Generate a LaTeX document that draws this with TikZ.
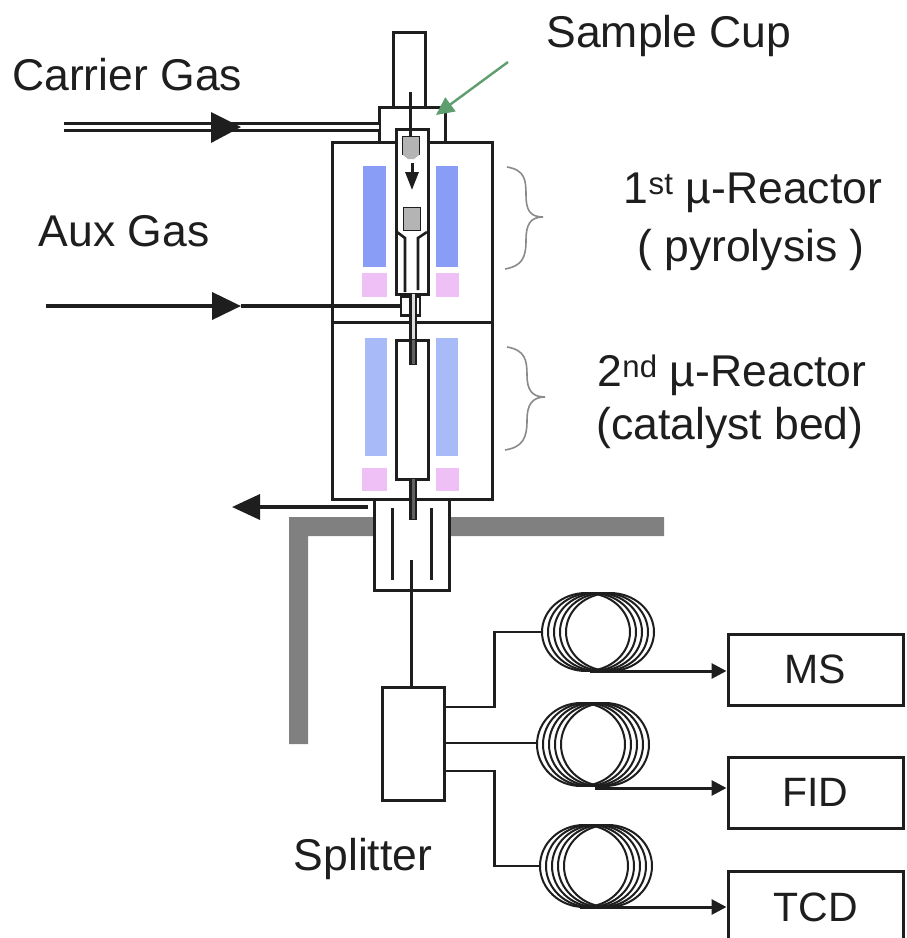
\documentclass[tikz,border=0pt]{standalone}
\usepackage{fontspec}
\setmainfont{Liberation Sans}
\usetikzlibrary{arrows.meta,shapes.geometric}
\definecolor{ink}{HTML}{1E1E1E}
\definecolor{bluea}{HTML}{8A9DF6}
\definecolor{blueb}{HTML}{A8BAF8}
\definecolor{pinkb}{HTML}{EFC0F5}
\definecolor{band}{HTML}{808080}
\definecolor{cupg}{HTML}{B4B4B4}
\definecolor{leaf}{HTML}{5E9E6E}
\definecolor{brc}{HTML}{8A8A8A}
\tikzset{
 box/.style={draw=ink,line width=3pt,fill=white,rectangle,inner sep=0pt},
 plain/.style={rectangle,inner sep=0pt,draw=none},
 wire/.style={draw=ink,line width=3pt},
 thin wire/.style={draw=ink,line width=2.6pt},
 arr/.style={wire,-{Triangle[length=15pt,width=15pt]}},
 bigtip/.style={-{Triangle[length=29pt,width=27pt]}},
 coil/.style={draw=ink,line width=2pt,ellipse,inner sep=0pt,minimum width=88pt},
 lbl/.style={font=\fontsize{44.5}{50}\selectfont,text=ink,inner sep=0pt},
 dlbl/.style={font=\fontsize{41}{46}\selectfont,text=ink,inner sep=0pt},
 brace/.style={draw=brc,line width=1.6pt},
}
\begin{document}
\begin{tikzpicture}[x=1pt,y=-1pt]
\clip (0,0) rectangle (906,938);
\fill[white] (0,0) rectangle (906,938);
% grey bracket
\fill[band] (664,517) -- (289,517) -- (289,744) -- (308,744) -- (308,536) -- (664,536) -- cycle;
% upper parts
\node[box,minimum width=32pt,minimum height=75pt] (tube) at (409,69.5) {};
\draw[wire,fill=white] (379,142) -- (379,107) -- (445,107) -- (445,142);
\coordinate (capw) at (379,127);
\coordinate (capn) at (412,107);
% reactors
\node[box,minimum width=160pt,minimum height=180pt] (ra) at (412,232) {};
\node[box,minimum width=160pt,minimum height=177pt] (rb) at (412,410.5) {};
% heaters
\foreach \n/\x/\y/\w/\h/\c in {ha/374.5/216.5/23/101/bluea,hb/447/216.5/22/101/bluea,
  pa/374.5/285/25/24/pinkb,pb/447.5/285/23/24/pinkb,
  hc/376/397/22/118/blueb,hd/447/397/22/118/blueb,
  pc/374.5/479.5/25/23/pinkb,pd/447.5/479.5/23/23/pinkb}
  \node[plain,fill=\c,minimum width=\w pt,minimum height=\h pt] (\n) at (\x,\y) {};
% inner tube reactor 1
\node[box,minimum width=32pt,minimum height=165pt] (ita) at (412,211.5) {};
\draw[thin wire] (397,232) -- (405,238) -- (405,292);
\draw[thin wire] (427,232) -- (418,238) -- (418,290);
% cups
\node[plain,fill=cupg,draw=ink,line width=1pt,minimum width=17pt,minimum height=18pt] (cupa) at (411,145) {};
\fill[cupg] (403,153) -- (419,153) -- (419,155) -- (414,159) -- (408,159) -- (403,155) -- cycle;
\node[plain,fill=cupg,draw=ink,line width=1pt,minimum width=17pt,minimum height=23pt] (cupb) at (412,219) {};
% sample path arrows
\coordinate (drop) at (410,92);
\draw[wire] (drop) -- (cupa.north -| drop);
\draw[wire,-{Triangle[length=18pt,width=13pt]}] (cupa.south) ++(1,8) -- (412,190);
% connector and transfer tube
\node[box,line width=2.6pt,minimum width=19pt,minimum height=19pt] (joint) at (410.5,306) {};
\draw[line width=8pt,draw=ink] (413,294) -- (413,366);
\draw[line width=3pt,draw=white!85!ink] (413.5,294) -- (413.5,340);
% reactor 2 tube
\node[box,fill=white,minimum width=32pt,minimum height=139pt] (itb) at (412,409.5) {};
\coordinate (tb) at (413,340);
\draw[line width=7.5pt,draw=ink] (tb) -- ++(0,25);
\draw[line width=2.6pt,draw=ink!70!white] (tb) ++(0.5,0) -- ++(0,24);
% splitter housing
\node[box,minimum width=75pt,minimum height=91pt] (house) at (411.5,544.5) {};
\draw[line width=7.5pt,draw=ink] (itb.south -| tb) -- (413,520);
\draw[line width=2.6pt,draw=ink!70!white] (413.7,479) -- (413.7,519);
\draw[wire] (392,508) -- (392,580);
\draw[wire] (431,508) -- (431,580);
% out arrow
\coordinate (outs) at (368,507);
\draw[wire,line width=3.6pt,-{Triangle[length=28pt,width=25pt]}] (outs) -- (232,507);
% splitter
\node[box,minimum width=62pt,minimum height=113pt] (split) at (413,743.5) {};
\coordinate (hin) at (411,560);
\draw[wire] (hin) -- (hin |- split.north);
% carrier
\coordinate (cs) at (64,127);
\draw[draw=ink,line width=9.5pt] (cs) -- (capw);
\draw[draw=white,line width=3.4pt] (cs) -- (capw);
\fill[ink] (211,112) -- (241,127) -- (211,143) -- cycle;
% aux
\coordinate (as) at (46,306);
\coordinate (amid) at (241,306);
\draw[line width=4pt,draw=ink,bigtip] (as) -- (amid);
\draw[line width=4pt,draw=ink] (amid) -- (joint.west);
% green
\coordinate (gs) at (508,62);
\draw[draw=leaf,line width=2.4pt,-{Triangle[length=18pt,width=17pt]}] (gs) -- (436,115);
% braces
\draw[brace] (507,167) .. controls (525,170) and (526,180) .. (526,195) .. controls (526,210) and (530,217) .. (543,217) .. controls (530,217) and (526,225) .. (526,240) .. controls (526,258) and (522,266) .. (505,269);
\draw[brace] (507,347) .. controls (525,350) and (527,360) .. (527,375) .. controls (527,390) and (532,397) .. (545,397) .. controls (532,397) and (527,405) .. (527,420) .. controls (527,438) and (523,447) .. (505,450);
% coils
\foreach \i/\k in {0/a,1/b,2/c,3/d,4/e} {
  \node[coil,minimum height=78pt] (c1\k) at ({586+6*\i},632) {};
  \node[coil,minimum height=83pt] (c2\k) at ({581+6*\i},744.5) {};
  \node[coil,minimum height=82pt] (c3\k) at ({584+6*\i},866) {};
}
% detectors
\node[box,minimum width=175pt,minimum height=71pt,dlbl] (ms) at (815.5,669.5) {MS};
\node[box,minimum width=175pt,minimum height=71pt,dlbl] (fid) at (815.5,792.5) {FID};
\node[box,minimum width=175pt,minimum height=72pt,dlbl] (tcd) at (815.5,907) {TCD};
% connectors
\coordinate (s1) at (split.east |- 0,707);
\coordinate (s2) at (split.east |- 0,743);
\coordinate (s3) at (split.east |- 0,771);
\draw[thin wire] (s1) -- ++(49,0) |- (c1a.west);
\draw[thin wire] (s2) -- (s2 -| c2a.west);
\draw[thin wire] (s3) -- ++(49,0) |- (c3a.west);
\coordinate (o1) at (590,671);
\coordinate (o2) at (595,788);
\coordinate (o3) at (580,907);
\draw[arr] (o1) -- (o1 -| ms.west);
\draw[arr] (o2) -- (o2 -| fid.west);
\draw[arr] (o3) -- (o3 -| tcd.west);
% labels
\node[lbl] (t1) at (669,36) {Sample Cup};
\node[lbl,anchor=west] (t2) at (12,75) {Carrier Gas};
\node[lbl] (t3) at (124,231) {Aux Gas};
\node[lbl] (t4) at (753,193) {1\textsuperscript{st} µ-Reactor};
\node[lbl] (t5) at (751,250) {( pyrolysis )};
\node[lbl] (t6) at (732,375) {2\textsuperscript{nd} µ-Reactor};
\node[lbl] (t7) at (730,428) {(catalyst bed)};
\node[lbl] (t8) at (363,859) {Splitter};
\end{tikzpicture}
\end{document}
